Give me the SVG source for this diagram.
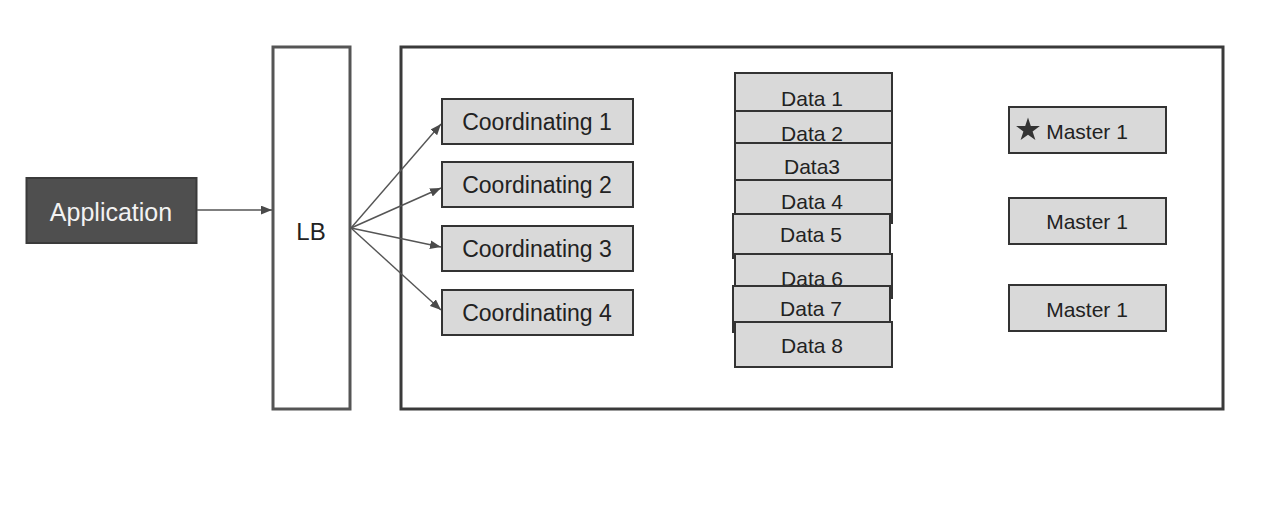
<svg xmlns="http://www.w3.org/2000/svg" width="1273" height="506" viewBox="0 0 1273 506">
<defs>
<marker id="arr" viewBox="0 0 10 8" refX="10" refY="4" markerWidth="11" markerHeight="9" markerUnits="userSpaceOnUse" orient="auto">
<path d="M0,0 L10,4 L0,8 Z" fill="#4a4a4a"/>
</marker>
<style>
.t{font-family:"Liberation Sans",Arial,sans-serif;fill:#222;text-anchor:middle}
.box{fill:#d9d9d9;stroke:#333;stroke-width:2}
.conn{stroke:#555;stroke-width:1.4;fill:none;marker-end:url(#arr)}
</style>
</defs>
<rect width="1273" height="506" fill="#fff"/>
<g id="cluster">
<rect x="401" y="47" width="822" height="362" fill="none" stroke="#3a3a3a" stroke-width="3"/>
</g>
<g id="application">
<rect x="26.5" y="178" width="170" height="65" fill="#4f4f4f" stroke="#3a3a3a" stroke-width="2"/>
<text class="t" x="111" y="221" font-size="25" style="fill:#f2f2f2">Application</text>
</g>
<g id="lb">
<rect x="273" y="47" width="77" height="362" fill="#fff" stroke="#555" stroke-width="3"/>
<text class="t" x="311" y="240" font-size="24">LB</text>
</g>
<g id="connectors">
<line class="conn" x1="197" y1="210" x2="272" y2="210"/>
<line class="conn" x1="351" y1="228" x2="441" y2="124"/>
<line class="conn" x1="351" y1="228" x2="441" y2="188"/>
<line class="conn" x1="351" y1="228" x2="441" y2="247"/>
<line class="conn" x1="351" y1="228" x2="441" y2="310"/>
</g>
<g id="coord1"><rect class="box" x="442" y="99" width="191" height="45"/><text class="t" x="537" y="130" font-size="23">Coordinating 1</text></g>
<g id="coord2"><rect class="box" x="442" y="162" width="191" height="45"/><text class="t" x="537" y="193" font-size="23">Coordinating 2</text></g>
<g id="coord3"><rect class="box" x="442" y="226" width="191" height="45"/><text class="t" x="537" y="257" font-size="23">Coordinating 3</text></g>
<g id="coord4"><rect class="box" x="442" y="290" width="191" height="45"/><text class="t" x="537" y="321" font-size="23">Coordinating 4</text></g>
<g id="data1"><rect class="box" x="735" y="73" width="157" height="45"/><text class="t" x="812" y="106" font-size="21">Data 1</text></g>
<g id="data2"><rect class="box" x="735" y="111" width="157" height="45"/><text class="t" x="812" y="141" font-size="21">Data 2</text></g>
<g id="data3"><rect class="box" x="735" y="143" width="157" height="45"/><text class="t" x="812" y="174" font-size="21">Data3</text></g>
<g id="data4"><rect class="box" x="735" y="180" width="157" height="43"/><text class="t" x="812" y="209" font-size="21">Data 4</text></g>
<g id="data5"><rect class="box" x="733" y="214" width="157" height="44"/><text class="t" x="811" y="242" font-size="21">Data 5</text></g>
<g id="data6"><rect class="box" x="735" y="254" width="157" height="44"/><text class="t" x="812" y="286" font-size="21">Data 6</text></g>
<g id="data7"><rect class="box" x="733" y="286" width="157" height="46"/><text class="t" x="811" y="316" font-size="21">Data 7</text></g>
<g id="data8"><rect class="box" x="735" y="322" width="157" height="45"/><text class="t" x="812" y="353" font-size="21">Data 8</text></g>
<g id="master1"><rect class="box" x="1009" y="107" width="157" height="46"/>
<polygon points="1028,117.5 1030.8,126.1 1039.9,126.1 1032.6,131.5 1035.4,140.1 1028,134.8 1020.6,140.1 1023.4,131.5 1016.1,126.1 1025.2,126.1" fill="#333"/>
<text class="t" x="1087" y="139" font-size="21">Master 1</text></g>
<g id="master2"><rect class="box" x="1009" y="198" width="157" height="46"/><text class="t" x="1087" y="229" font-size="21">Master 1</text></g>
<g id="master3"><rect class="box" x="1009" y="285" width="157" height="46"/><text class="t" x="1087" y="317" font-size="21">Master 1</text></g>
</svg>
